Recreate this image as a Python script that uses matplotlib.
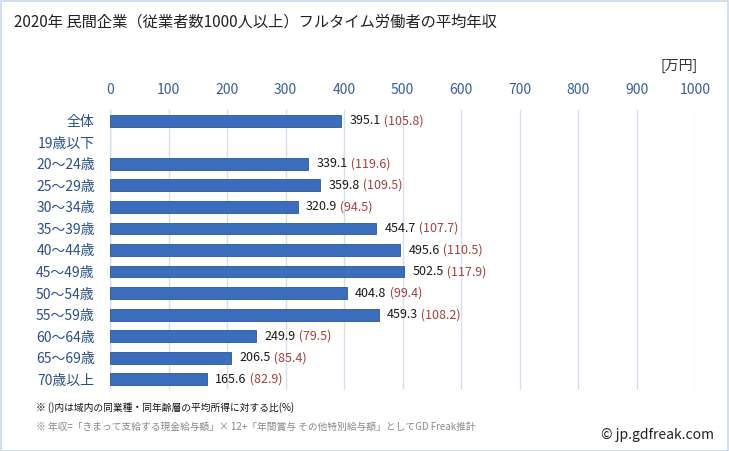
import numpy as np
import matplotlib
matplotlib.use("Agg")
import matplotlib.pyplot as plt
from matplotlib.patches import Rectangle

plt.rcParams['font.family'] = ['Noto Sans CJK JP', 'DejaVu Sans']

categories = ["全体", "19歳以下", "20～24歳", "25～29歳", "30～34歳", "35～39歳", "40～44歳",
              "45～49歳", "50～54歳", "55～59歳", "60～64歳", "65～69歳", "70歳以上"]
values = [395.1, np.nan, 339.1, 359.8, 320.9, 454.7, 495.6, 502.5, 404.8, 459.3, 249.9, 206.5, 165.6]
ratios = [105.8, np.nan, 119.6, 109.5, 94.5, 107.7, 110.5, 117.9, 99.4, 108.2, 79.5, 85.4, 82.9]
xticks = [0, 100, 200, 300, 400, 500, 600, 700, 800, 900, 1000]

W, H = 729, 451
fig = plt.figure(figsize=(W / 100, H / 100), dpi=100)
fig.patch.set_facecolor("white")

# outer frame
fig.add_artist(Rectangle((0.5 / W, 0.5 / H), 1 - 1.5 / W, 1 - 1.5 / H, transform=fig.transFigure,
                         fill=False, edgecolor="#c9d9ec", linewidth=1.2))

left, right = 110 / W, 695 / W
top, bottom = 1 - 110 / H, 1 - 390 / H
ax = fig.add_axes([left, bottom, right - left, top - bottom])

y = np.arange(len(categories))
ax.barh(y, values, height=0.55, color="#3a6dbb", edgecolor="#2c5694", linewidth=0.6, zorder=3)

ax.set_xlim(0, 1000)
ax.set_ylim(len(categories) - 0.5, -0.5)
ax.set_xticks(xticks)
ax.set_xticklabels([str(t) for t in xticks])
ax.xaxis.tick_top()
ax.tick_params(axis="x", length=0, pad=9, labelsize=10, labelcolor="#3a5f98")
ax.set_yticks(y)
ax.set_yticklabels(categories)
ax.tick_params(axis="y", length=0, pad=11, labelsize=10, labelcolor="#2a4f8a")
ax.grid(axis="x", color="#d3e0ef", linewidth=1, zorder=0)
for s in ax.spines.values():
    s.set_visible(False)
ax.axvline(0, color="#c8d6e8", linewidth=1, zorder=1)

for yi, v, r in zip(y, values, ratios):
    if np.isnan(v):
        continue
    t = ax.annotate(f"{v:.1f}", (v, yi), xytext=(6, 0), textcoords="offset points",
                    va="center", ha="left", fontsize=9, color="#1a1a1a", zorder=4)
    ax.annotate(f" ({r:.1f})", xycoords=t, xy=(1, 0.5), va="center", ha="left",
                fontsize=9, color="#a5413d", zorder=4)

fig.text(14 / W, 1 - 22 / H, "2020年 民間企業（従業者数1000人以上）フルタイム労働者の平均年収",
         fontsize=11, color="#222222", va="center", ha="left")
fig.text(698 / W, 1 - 66 / H, "[万円]", fontsize=10, color="#333333", va="center", ha="right")

fig.text(36 / W, 1 - 408 / H, "※ ()内は域内の同業種・同年齢層の平均所得に対する比(%)",
         fontsize=7, color="#111111", va="center", ha="left")
fig.text(36 / W, 1 - 427 / H, "※ 年収=「きまって支給する現金給与額」× 12+「年間賞与 その他特別給与額」としてGD Freak推計",
         fontsize=7, color="#888888", va="center", ha="left")
fig.text(714 / W, 1 - 435 / H, "© jp.gdfreak.com", fontsize=10, color="#222222",
         va="center", ha="right")

fig.savefig("out.png", dpi=100, facecolor="white")
